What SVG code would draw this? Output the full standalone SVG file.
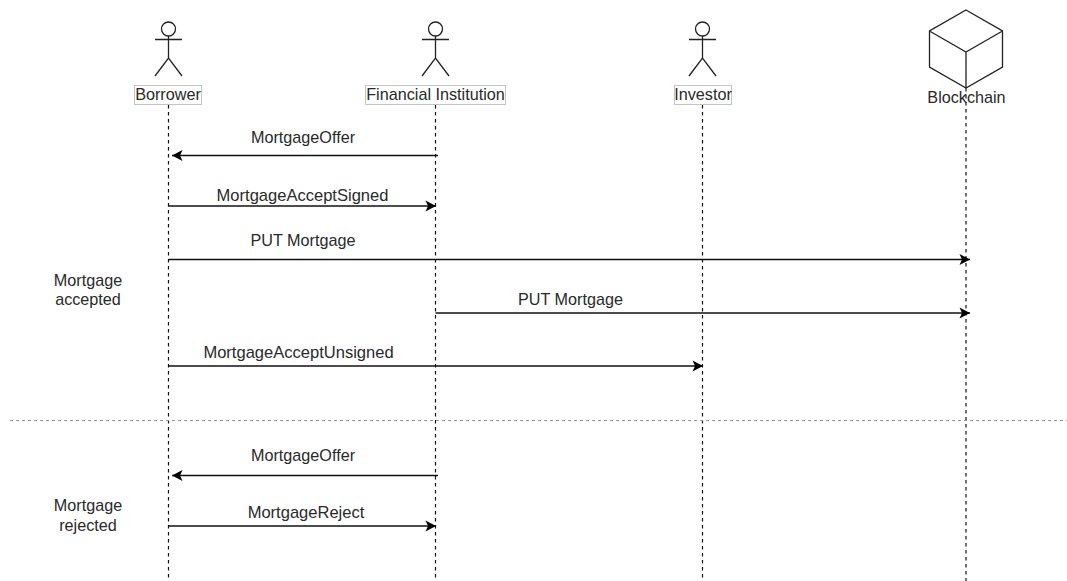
<svg xmlns="http://www.w3.org/2000/svg" width="1067" height="581" viewBox="0 0 1067 581">
<style>
text{font-family:"Liberation Sans",Arial,sans-serif;font-size:16.2px;fill:#2a2a2a;text-anchor:middle}
text.wide{font-size:16.55px}
.life{stroke:#111;stroke-width:1.2;stroke-dasharray:3.500 3.500;fill:none}
.msg{stroke:#111;stroke-width:1.3;fill:none}
.shape{stroke:#222;stroke-width:1.3;fill:none}
.box{fill:#fff;stroke:#c4c4c4;stroke-width:1}
.sep{stroke:#999;stroke-width:1;stroke-dasharray:3 3;fill:none}
</style>
<defs>
<marker id="arrow" markerUnits="userSpaceOnUse" markerWidth="13" markerHeight="12" refX="11" refY="6" orient="auto"><path d="M0.500 0.500L11 6L0.500 11.500L3 6Z" fill="#000"/></marker>
<g id="actor"><circle cx="0" cy="29" r="7" class="shape"/><path class="shape" d="M0 36V58M-13.500 39.500H13.500M-13.500 76L0 58L13.500 76"/></g>
</defs>
<rect width="1067" height="581" fill="#fff"/>
<g id="connectors">
<path class="life" d="M168.500 105V581"/>
<path class="life" d="M435.500 105V581"/>
<path class="life" d="M702.500 105V581"/>
<path class="life" d="M966 88V581"/>
<path class="sep" d="M10 420.500H1067"/>
<path class="msg" marker-end="url(#arrow)" d="M438 155.500H172"/>
<path class="msg" marker-end="url(#arrow)" d="M168.500 206H436"/>
<path class="msg" marker-end="url(#arrow)" d="M168.500 259.500H970"/>
<path class="msg" marker-end="url(#arrow)" d="M435.500 313H970"/>
<path class="msg" marker-end="url(#arrow)" d="M168.500 366H703"/>
<path class="msg" marker-end="url(#arrow)" d="M438 475.500H172"/>
<path class="msg" marker-end="url(#arrow)" d="M168.500 526H436"/>
</g>
<g id="borrower"><use href="#actor" x="168.500"/><rect class="box" x="134.500" y="85.500" width="67" height="19"/><text x="168" y="100">Borrower</text></g>
<g id="financial-institution"><use href="#actor" x="435.500"/><rect class="box" x="365.500" y="85.500" width="140" height="19"/><text x="435.500" y="100">Financial Institution</text></g>
<g id="investor"><use href="#actor" x="702.500"/><rect class="box" x="674.500" y="85.500" width="57" height="19"/><text x="703" y="100">Investor</text></g>
<g id="blockchain"><path class="shape" d="M966 10L1002.500 31V67L966 88L929.500 67V31ZM929.500 31L966 52L1002.500 31M966 52V88"/><text x="966.500" y="103">Blockchain</text></g>
<g id="labels">
<text x="303" y="143">MortgageOffer</text>
<text class="wide" x="302.500" y="201">MortgageAcceptSigned</text>
<text x="303" y="246">PUT Mortgage</text>
<text x="570.500" y="305">PUT Mortgage</text>
<text class="wide" x="298.500" y="358">MortgageAcceptUnsigned</text>
<text x="303" y="461">MortgageOffer</text>
<text class="wide" x="306" y="518">MortgageReject</text>
<text x="88" y="286">Mortgage</text>
<text x="88" y="305">accepted</text>
<text x="88" y="511">Mortgage</text>
<text x="88" y="531">rejected</text>
</g>
</svg>
